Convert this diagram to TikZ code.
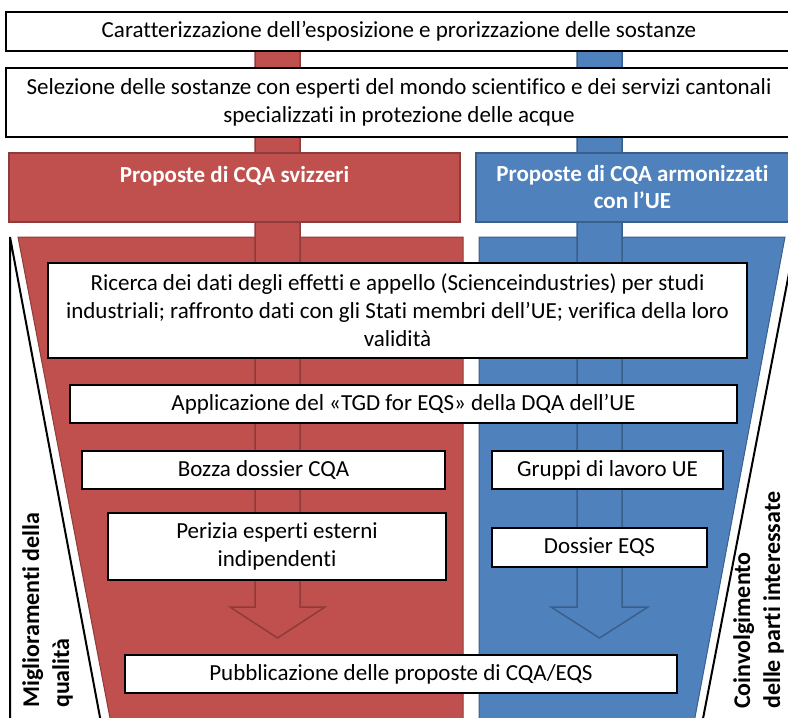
\documentclass[tikz,border=0pt]{standalone}
\usepackage{fontspec}
\setmainfont{Carlito}[Ligatures=NoCommon]
\usetikzlibrary{positioning}

\definecolor{cqared}{HTML}{C0504D}
\definecolor{cqablue}{HTML}{4F81BD}
\definecolor{redrim}{HTML}{8E3B39}
\definecolor{bluerim}{HTML}{3A5F8B}

\begin{document}
\begin{tikzpicture}[x=1pt,y=-1pt,
    font=\fontsize{23}{28}\selectfont,
    box/.style={draw=black, line width=2.2pt, fill=white, align=center, inner sep=0pt},
    head/.style={line width=1.2pt, text=white, align=center, inner sep=0pt, font=\fontsize{23}{27}\selectfont\bfseries},
    funnel/.style={line width=1pt},
    blockarrow/.style={line width=1.5pt},
    side/.style={draw=black, line width=2pt, fill=white},
    sidelabel/.style={rotate=90, anchor=north west, align=left, inner sep=0pt, font=\fontsize{24}{30}\selectfont\bfseries}]
    \useasboundingbox (0,0) rectangle (788,718);
    \clip (0,0) rectangle (788,718);

    % funnel halves and side shapes
    \draw[side] (10,237) -- (10,760) -- (108,760) -- cycle;
    \draw[side] (796,237) -- (796,760) -- (695,760) -- cycle;
    \draw[funnel, fill=cqared, draw=redrim] (18,237) -- (463,237) -- (463,760) -- (118,760) -- cycle;
    \draw[funnel, fill=cqablue, draw=bluerim] (479,237) -- (785,237) -- (687,760) -- (479,760) -- cycle;

    % block arrows
    \draw[blockarrow, fill=cqared, draw=redrim] (255,20) -- (255,607) -- (230,607) -- (277.5,638)
        -- (325,607) -- (300,607) -- (300,20) -- cycle;
    \draw[blockarrow, fill=cqablue, draw=bluerim] (577,20) -- (577,607) -- (551,607) -- (599.5,638)
        -- (648,607) -- (622,607) -- (622,20) -- cycle;

    \node[box, minimum width=786, minimum height=39] (expo) at (399,31.5)
        {Caratterizzazione dell’esposizione e prorizzazione delle sostanze};
    \node[box, minimum width=786, minimum height=69] (selez) at (399,102.5)
        {Selezione delle sostanze con esperti del mondo scientifico e dei servizi cantonali\\specializzati in protezione delle acque};

    \node[head, fill=cqared, draw=redrim, minimum width=451, minimum height=69] (ch) at (234.5,187.5)
        {Proposte di CQA svizzeri\\\mbox{}};
    \node[head, fill=cqablue, draw=bluerim, minimum width=313, minimum height=69] (eu) at (632.5,187.5)
        {Proposte di CQA armonizzati\\con l’UE};

    \node[box, minimum width=699, minimum height=95] (ricerca) at (397.5,310.5)
        {Ricerca dei dati degli effetti e appello (Scienceindustries) per studi\\industriali; raffronto dati con gli Stati membri dell’UE; verifica della loro\\validità};
    \node[box, minimum width=667, minimum height=38] (tgd) at (403.5,404)
        {Applicazione del «TGD for EQS» della DQA dell’UE};
    \node[box, minimum width=363, minimum height=38] (bozza) at (263.5,470) {Bozza dossier CQA};
    \node[box, minimum width=231, minimum height=38] (gruppi) at (607.5,470) {Gruppi di lavoro UE};
    \node[box, minimum width=338, minimum height=67] (perizia) at (277,546.5)
        {Perizia esperti esterni\\indipendenti};
    \node[box, minimum width=215, minimum height=39] (eqs) at (599.5,547.5) {Dossier EQS};
    \node[box, minimum width=552, minimum height=38] (pubbl) at (401,674)
        {Pubblicazione delle proposte di CQA/EQS};

    % side labels
    \node[sidelabel] (qual) at (22,708) {Miglioramenti della\\qualità};
    \node[sidelabel] (coinv) at (733,709) {Coinvolgimento\\delle parti interessate};
\end{tikzpicture}
\end{document}
